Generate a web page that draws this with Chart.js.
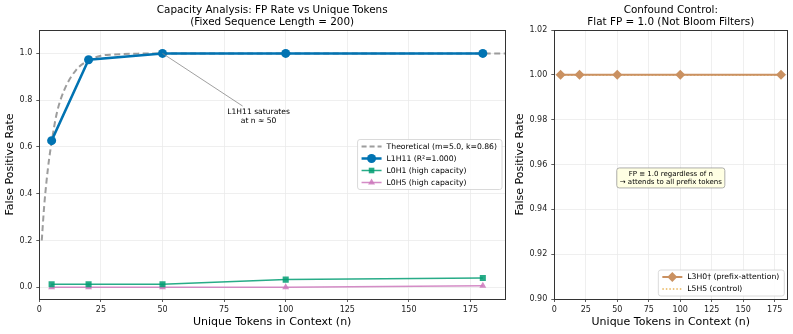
<!DOCTYPE html>
<html>
<head>
<meta charset="utf-8">
<script src="https://cdn.jsdelivr.net/npm/chart.js@4.4.1/dist/chart.umd.min.js"></script>
<style>
  body { margin: 0; background: #fff; width: 793px; height: 334px; overflow: hidden; position: relative; }
  canvas { position: absolute; top: 0; }
  #capChart { left: 0; }
  #ctrlChart { left: 495px; }
</style>
</head>
<body>
<canvas id="capChart" width="520" height="334"></canvas>
<canvas id="ctrlChart" width="298" height="334"></canvas>
<script>
// values
const nTokens = [5, 20, 50, 100, 180];
const fpL1H11 = [0.627, 0.973, 1.0, 1.0, 1.0];
const fpL0H1  = [0.013, 0.013, 0.013, 0.033, 0.040];
const fpL0H5  = [0.0, 0.0, 0.0, 0.0, 0.007];

// theoretical dashed curve (m=5.0, k=0.86)
const theoN  = [1, 2, 3, 4, 5, 7, 10, 15, 20, 25, 30, 40, 50, 75, 100, 150, 190];
const theoFP = [0.20, 0.35, 0.46, 0.55, 0.62, 0.74, 0.84, 0.93, 0.97, 0.99, 0.995, 0.999, 1.0, 1.0, 1.0, 1.0, 1.0];

// confound control panel
const fpL3H0 = [1.0, 1.0, 1.0, 1.0, 1.0];
const fpL5H5 = [1.0, 1.0, 1.0, 1.0, 1.0];

// tick labels
const xTicks = [0, 25, 50, 75, 100, 125, 150, 175];
const capYTicks = [0.0, 0.2, 0.4, 0.6, 0.8, 1.0];
const ctrlYTicks = [0.90, 0.92, 0.94, 0.96, 0.98, 1.00, 1.02];

const FONT = "'DejaVu Sans', sans-serif";
Chart.defaults.font.family = FONT;
Chart.defaults.color = '#222';

function pts(xs, ys) {
    return xs.map((x, i) => ({ x: x, y: ys[i] }));
}

function axes(xMax, yMin, yMax, yTicks, yDec, yWidth) {
    return {
        x: {
            type: 'linear', min: 0, max: xMax,
            afterBuildTicks: s => { s.ticks = xTicks.map(v => ({ value: v })); },
            afterFit: s => { s.height = 35; },
            grid: { color: '#ebebeb', tickColor: '#333', tickLength: 3, lineWidth: 0.8 },
            border: { color: '#333', width: 1 },
            ticks: { color: '#222', font: { size: 8 }, padding: 3, maxRotation: 0 },
            title: { display: true, text: 'Unique Tokens in Context (n)', color: '#000',
                     font: { size: 11 }, padding: { top: 0, bottom: 5.5 } }
        },
        y: {
            type: 'linear', min: yMin, max: yMax,
            afterBuildTicks: s => { s.ticks = yTicks.map(v => ({ value: v })); },
            afterFit: s => { s.width = yWidth; },
            grid: { color: '#ebebeb', tickColor: '#333', tickLength: 3, lineWidth: 0.8 },
            border: { color: '#333', width: 1 },
            ticks: { color: '#222', font: { size: 8 }, padding: 4,
                     callback: v => Number(v).toFixed(yDec) },
            title: { display: true, text: 'False Positive Rate', color: '#000',
                     font: { size: 11 }, padding: { top: 4, bottom: 0 } }
        }
    };
}

// draws a legend marker
function marker(ctx, style, x, y, r, color) {
    ctx.fillStyle = color;
    ctx.beginPath();
    if (style === 'circle') {
        ctx.arc(x, y, r, 0, Math.PI * 2);
    } else if (style === 'rect') {
        ctx.rect(x - r * 0.7, y - r * 0.7, r * 1.4, r * 1.4);
    } else if (style === 'triangle') {
        ctx.moveTo(x, y - r); ctx.lineTo(x + r * 0.87, y + r * 0.5); ctx.lineTo(x - r * 0.87, y + r * 0.5);
    } else if (style === 'rectRot') {
        ctx.moveTo(x, y - r); ctx.lineTo(x + r, y); ctx.lineTo(x, y + r); ctx.lineTo(x - r, y);
    }
    ctx.closePath();
    ctx.fill();
}

function roundBox(ctx, x, y, w, h, r) {
    ctx.beginPath();
    ctx.moveTo(x + r, y);
    ctx.arcTo(x + w, y, x + w, y + h, r);
    ctx.arcTo(x + w, y + h, x, y + h, r);
    ctx.arcTo(x, y + h, x, y, r);
    ctx.arcTo(x, y, x + w, y, r);
    ctx.closePath();
}

function makeDecor(cfg) {
    return {
        id: 'decor',
        afterDraw(chart) {
            const ctx = chart.ctx, a = chart.chartArea;
            const xs = chart.scales.x, ys = chart.scales.y;
            ctx.save();

            // frame on all four sides
            ctx.strokeStyle = '#333'; ctx.lineWidth = 1;
            ctx.strokeRect(Math.round(a.left) + 0.5, Math.round(a.top) + 0.5,
                           Math.round(a.right - a.left), Math.round(a.bottom - a.top));

            // two-line title over the plot area
            ctx.fillStyle = '#000';
            ctx.font = '10.4px ' + FONT;
            ctx.textAlign = 'center'; ctx.textBaseline = 'middle';
            const cx = (a.left + a.right) / 2;
            cfg.title.forEach((t, i) => ctx.fillText(t, cx, 10 + i * 11.8));

            // annotation with a leader line
            if (cfg.arrowNote) {
                const n = cfg.arrowNote;
                ctx.font = '7.6px ' + FONT;
                const tx = xs.getPixelForValue(n.at[0]), ty = ys.getPixelForValue(n.at[1]);
                const px = xs.getPixelForValue(n.point[0]), py = ys.getPixelForValue(n.point[1]);
                const hw = Math.max(...n.lines.map(l => ctx.measureText(l).width)) / 2 + 2;
                const hh = n.lines.length * 9.5 / 2 + 1;
                const dx = px - tx, dy = py - ty;
                const t = Math.min(Math.abs(hw / dx), Math.abs(hh / dy));
                ctx.strokeStyle = '#888'; ctx.lineWidth = 0.8;
                ctx.beginPath();
                ctx.moveTo(px, py);
                ctx.lineTo(tx + dx * t, ty + dy * t);
                ctx.stroke();
                ctx.fillStyle = '#000';
                n.lines.forEach((l, i) => ctx.fillText(l, tx, ty + (i - (n.lines.length - 1) / 2) * 9.5));
            }

            // boxed annotation at axes fraction
            if (cfg.boxNote) {
                const n = cfg.boxNote;
                ctx.font = '7px ' + FONT;
                const bx = a.left + n.frac[0] * (a.right - a.left);
                const by = a.bottom - n.frac[1] * (a.bottom - a.top);
                const w = Math.max(...n.lines.map(l => ctx.measureText(l).width)) + 6;
                const h = n.lines.length * 8.5 + 3;
                roundBox(ctx, bx - w / 2, by - h / 2, w, h, 2.5);
                ctx.fillStyle = 'rgba(255,255,224,0.9)';
                ctx.fill();
                ctx.strokeStyle = '#999'; ctx.lineWidth = 0.8;
                ctx.stroke();
                ctx.fillStyle = '#000';
                n.lines.forEach((l, i) => ctx.fillText(l, bx, by + (i - (n.lines.length - 1) / 2) * 8.5));
            }

            // legend
            const lg = cfg.legend;
            ctx.font = '7.7px ' + FONT;
            const tw = Math.max(...lg.items.map(it => ctx.measureText(it.label).width));
            const rowH = 12, handle = 20;
            const w = 4 + handle + 5 + tw + 5, h = lg.items.length * rowH + 2;
            const x0 = a.right - 3 - w;
            const y0 = lg.loc === 'center right' ? (a.top + a.bottom) / 2 - h / 2 : a.bottom - 3 - h;
            roundBox(ctx, x0, y0, w, h, 2.5);
            ctx.fillStyle = 'rgba(255,255,255,0.85)';
            ctx.fill();
            ctx.strokeStyle = '#d0d0d0'; ctx.lineWidth = 0.8;
            ctx.stroke();
            lg.items.forEach((it, i) => {
                const ry = y0 + 1 + rowH / 2 + i * rowH;
                ctx.strokeStyle = it.color; ctx.lineWidth = it.width;
                ctx.setLineDash(it.dash || []);
                ctx.beginPath();
                ctx.moveTo(x0 + 4, ry); ctx.lineTo(x0 + 4 + handle, ry);
                ctx.stroke();
                ctx.setLineDash([]);
                if (it.marker) marker(ctx, it.marker, x0 + 4 + handle / 2, ry, it.size, it.color);
                ctx.fillStyle = '#000';
                ctx.textAlign = 'left';
                ctx.fillText(it.label, x0 + 4 + handle + 5, ry + 0.5);
            });

            ctx.restore();
        }
    };
}

const BLUE = '#0173b2', GREEN = 'rgba(2,158,115,0.85)', PINK = 'rgba(204,120,188,0.85)';
const TAN = '#ca9161', ORANGE = '#de8f05', GRAY = 'rgba(140,140,140,0.85)';

// left panel: capacity analysis
new Chart(document.getElementById('capChart'), {
    type: 'line',
    data: {
        datasets: [
            { label: 'L1H11 (R²=1.000)', data: pts(nTokens, fpL1H11), order: 0,
              borderColor: BLUE, backgroundColor: BLUE, borderWidth: 2.5,
              pointStyle: 'circle', pointRadius: 4.5, pointBorderWidth: 0 },
            { label: 'L0H1 (high capacity)', data: pts(nTokens, fpL0H1), order: 1,
              borderColor: GREEN, backgroundColor: GREEN, borderWidth: 1.5,
              pointStyle: 'rect', pointRadius: 4.3, pointBorderWidth: 0 },
            { label: 'L0H5 (high capacity)', data: pts(nTokens, fpL0H5), order: 2,
              borderColor: PINK, backgroundColor: PINK, borderWidth: 1.5,
              pointStyle: 'triangle', pointRadius: 4, pointBorderWidth: 0 },
            { label: 'Theoretical (m=5.0, k=0.86)', data: pts(theoN, theoFP), order: 3,
              borderColor: GRAY, borderWidth: 2, borderDash: [6, 3.5],
              cubicInterpolationMode: 'monotone', pointRadius: 0 }
        ]
    },
    options: {
        responsive: false, animation: false,
        layout: { padding: { left: 0, top: 30, right: 15, bottom: 0 } },
        plugins: { legend: { display: false }, tooltip: { enabled: false }, title: { display: false } },
        scales: axes(189, -0.05, 1.1, capYTicks, 1, 39.3)
    },
    plugins: [makeDecor({
        title: ['Capacity Analysis: FP Rate vs Unique Tokens', '(Fixed Sequence Length = 200)'],
        arrowNote: { lines: ['L1H11 saturates', 'at n ≈ 50'], at: [89, 0.73], point: [50, 1.0] },
        legend: { loc: 'center right', items: [
            { label: 'Theoretical (m=5.0, k=0.86)', color: GRAY, width: 2, dash: [5, 3] },
            { label: 'L1H11 (R²=1.000)', color: BLUE, width: 2.5, marker: 'circle', size: 4.5 },
            { label: 'L0H1 (high capacity)', color: GREEN, width: 1.5, marker: 'rect', size: 4 },
            { label: 'L0H5 (high capacity)', color: PINK, width: 1.5, marker: 'triangle', size: 4 }
        ] }
    })]
});

// right panel: confound control
new Chart(document.getElementById('ctrlChart'), {
    type: 'line',
    data: {
        datasets: [
            { label: 'L3H0† (prefix-attention)', data: pts(nTokens, fpL3H0), order: 0,
              borderColor: TAN, backgroundColor: TAN, borderWidth: 2,
              pointStyle: 'rectRot', pointRadius: 5, pointBorderWidth: 0 },
            { label: 'L5H5 (control)', data: pts(nTokens, fpL5H5), order: 1,
              borderColor: ORANGE, borderWidth: 1.2, borderDash: [1.5, 2], pointRadius: 0 }
        ]
    },
    options: {
        responsive: false, animation: false,
        layout: { padding: { left: 15, top: 30, right: 5.7, bottom: 0 } },
        plugins: { legend: { display: false }, tooltip: { enabled: false }, title: { display: false } },
        scales: axes(185, 0.90, 1.02, ctrlYTicks, 2, 44.3)
    },
    plugins: [makeDecor({
        title: ['Confound Control:', 'Flat FP = 1.0 (Not Bloom Filters)'],
        boxNote: { lines: ['FP ≡ 1.0 regardless of n', '→ attends to all prefix tokens'], frac: [0.5, 0.45] },
        legend: { loc: 'lower right', items: [
            { label: 'L3H0† (prefix-attention)', color: TAN, width: 2, marker: 'rectRot', size: 5 },
            { label: 'L5H5 (control)', color: ORANGE, width: 1.2, dash: [1.5, 2] }
        ] }
    })]
});
</script>
</body>
</html>
